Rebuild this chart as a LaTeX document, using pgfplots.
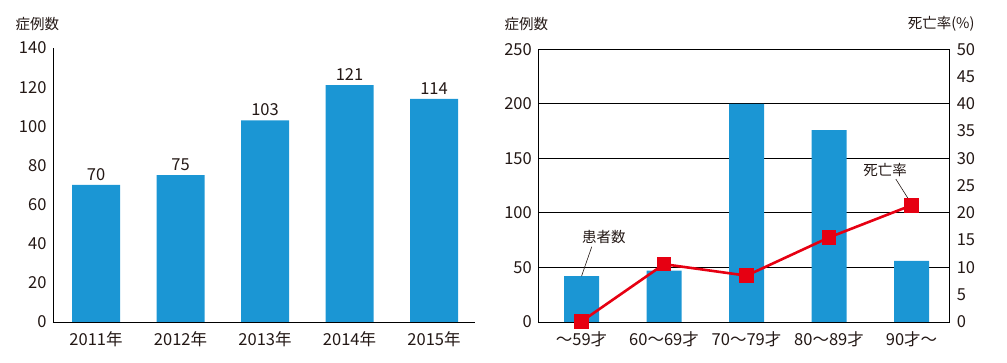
\documentclass[border=0pt]{standalone}
\usepackage{fontspec}
\setmainfont{Noto Sans CJK JP}
\usepackage{pgfplots}
\pgfplotsset{compat=1.18}
\definecolor{barblue}{RGB}{27,150,212}
\definecolor{linered}{RGB}{230,0,18}
\definecolor{txt}{RGB}{35,24,21}
\begin{document}
\begin{tikzpicture}
\useasboundingbox (0pt,0pt) rectangle (1007pt,363pt);
\pgfplotsset{
  common/.style={
    scale only axis, anchor=south west,
    major tick length=0pt,
    /pgf/number format/assume math mode=true,
    tick label style={font=\fontsize{16.5}{19}\selectfont, text=txt},
    xticklabel style={yshift=-6pt},
    axis line style={line width=0.9pt, black},
  }
}
% ---------- left panel ----------
\begin{axis}[common,
  at={(53pt,41pt)}, width=422pt, height=274pt,
  xmin=-0.509, xmax=4.485, ymin=0, ymax=140,
  ytick={0,20,...,140},
  yticklabel style={xshift=-3pt},
  xtick={0,1,2,3,4},
  xticklabels={2011年,2012年,2013年,2014年,2015年},
  axis x line*=bottom, axis y line*=left,
  axis line style={-},
]
\addplot[ybar, bar width=48pt, fill=barblue, draw=none,
  nodes near coords,
  nodes near coords style={font=\fontsize{16.5}{19}\selectfont, text=txt, yshift=1pt}]
  coordinates {(0,70) (1,75) (2,103) (3,121) (4,114)};
\end{axis}
\node[anchor=west, font=\fontsize{14.5}{17}\selectfont, text=txt] at (12pt,339pt) {症例数};

% ---------- right panel ----------
\begin{axis}[common,
  at={(538.3pt,41pt)}, width=411pt, height=272.7pt,
  xmin=-0.524, xmax=4.458, ymin=0, ymax=250,
  ytick={0,50,...,250}, ytick pos=left,
  yticklabel style={xshift=-3pt},
  xtick={0,1,2,3,4}, xtick pos=bottom,
  xticklabels={〜59才,60〜69才,70〜79才,80〜89才,90才〜},
  ymajorgrids, grid style={black, line width=0.9pt},
]
\addplot[ybar, bar width=35pt, fill=barblue, draw=none]
  coordinates {(0,42) (1,47) (2,200) (3,176) (4,56)};
\draw[txt, line width=0.6pt] (axis cs:0,42) -- (axis cs:0.124,69);
\node[font=\fontsize{14.5}{17}\selectfont, text=txt] at (axis cs:0.27,78) {患者数};
\draw[txt, line width=0.6pt] (axis cs:3.81,131) -- (axis cs:3.96,113);
\node[font=\fontsize{14.5}{17}\selectfont, text=txt] at (axis cs:3.68,139) {死亡率};
\end{axis}
\begin{axis}[common,
  at={(538.3pt,41pt)}, width=411pt, height=272.7pt,
  xmin=-0.524, xmax=4.458, ymin=0, ymax=50,
  ytick={0,5,...,50},
  yticklabel style={xshift=4pt},
  axis y line*=right, axis x line=none,
  axis line style={-},
  clip=false,
]
\addplot[linered, line width=2.6pt, mark=square*, mark size=6pt, mark options={fill=linered, draw=none}]
  coordinates {(0,0.1) (1,10.6) (2,8.5) (3,15.5) (4,21.4)};
\end{axis}
\node[anchor=west, font=\fontsize{14.5}{17}\selectfont, text=txt] at (501pt,339pt) {症例数};
\node[anchor=east, font=\fontsize{14.5}{17}\selectfont, text=txt] at (978pt,339pt) {死亡率(\%)};
\end{tikzpicture}
\end{document}
